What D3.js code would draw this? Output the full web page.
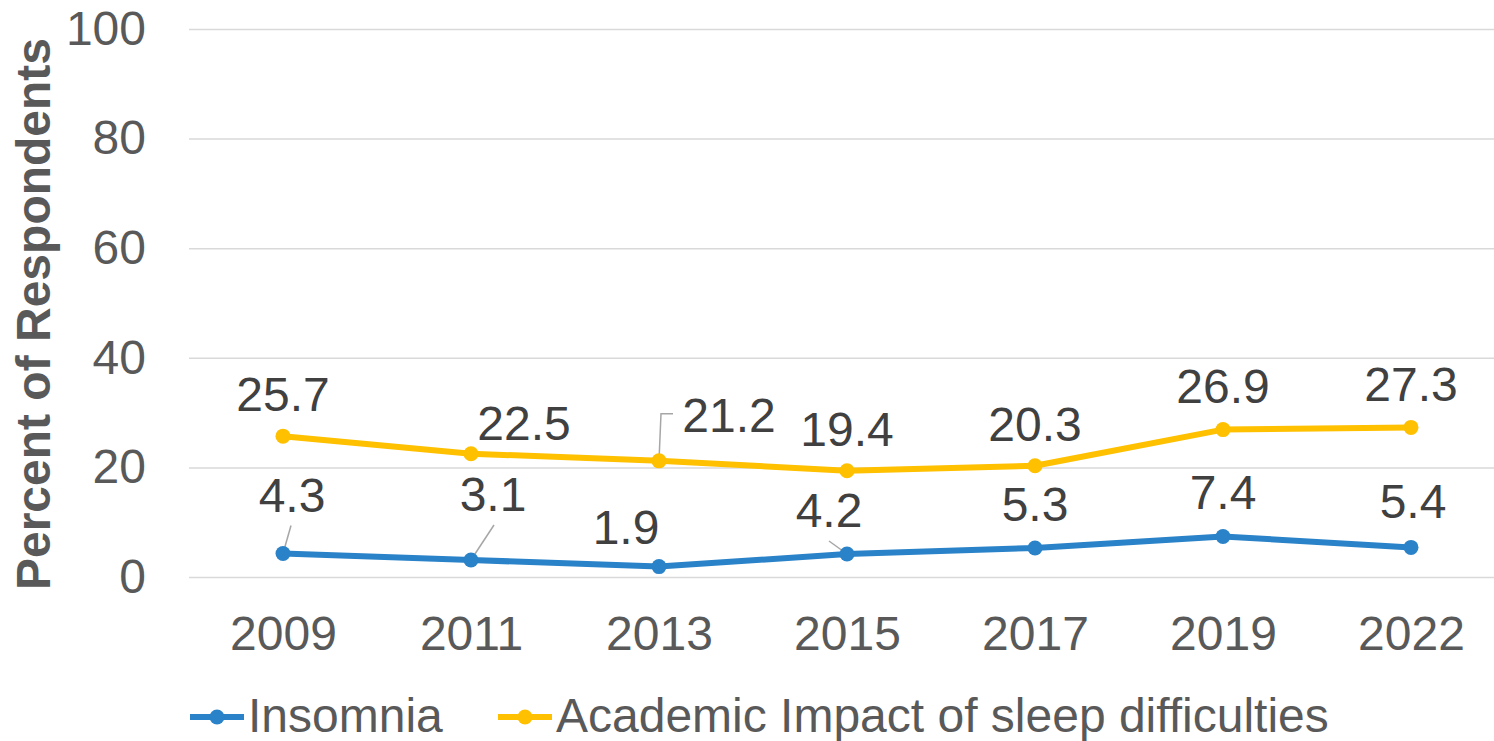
<!DOCTYPE html>
<html>
<head>
<meta charset="utf-8">
<script src="https://cdn.jsdelivr.net/npm/d3@7"></script>
<style>
  body { margin: 0; background: #fff; }
  text { font-family: "Liberation Sans", Arial, sans-serif; }
</style>
</head>
<body>
<div id="chart"></div>
<script>
// data
var years = ["2009", "2011", "2013", "2015", "2017", "2019", "2022"];
var insomnia = [4.3, 3.1, 1.9, 4.2, 5.3, 7.4, 5.4];
var academic = [25.7, 22.5, 21.2, 19.4, 20.3, 26.9, 27.3];
var yTicks = [0, 20, 40, 60, 80, 100];
var seriesNames = ["Insomnia", "Academic Impact of sleep difficulties"];

var W = 1494, H = 741;
var colors = ["#2a82c8", "#ffc000"];
var fs = "48px";

var svg = d3.select("#chart").append("svg")
    .attr("width", W)
    .attr("height", H);

var x = d3.scalePoint()
    .domain(years)
    .range([189, 1505])
    .padding(0.5);

var y = d3.scaleLinear()
    .domain([0, 100])
    .range([577, 29]);

// grid + y labels
var yAxis = svg.append("g")
    .attr("transform", "translate(189,0)")
    .call(d3.axisLeft(y).tickValues(yTicks).tickSize(-1320).tickPadding(43));
yAxis.select(".domain").remove();
yAxis.selectAll("line").attr("stroke", "#d9d9d9").attr("stroke-width", 1.5);
yAxis.selectAll("text")
    .attr("fill", "#595959")
    .style("font-size", fs);

// x labels
var xAxis = svg.append("g")
    .attr("transform", "translate(0,577)")
    .call(d3.axisBottom(x).tickSize(0).tickPadding(39));
xAxis.select(".domain").remove();
xAxis.selectAll("text")
    .attr("fill", "#595959")
    .style("font-size", fs);

svg.append("text")
    .attr("transform", "translate(50,314) rotate(-90)")
    .attr("text-anchor", "middle")
    .attr("fill", "#595959")
    .style("font-size", fs)
    .style("font-weight", "bold")
    .text("Percent of Respondents");

var line = d3.line()
    .x(function(d, i) { return x(years[i]); })
    .y(function(d) { return y(d); });

var series = [insomnia, academic];

// label nudges (dx, dy above point) per series
var nudges = [
    [[9, -41], [22, -49], [-33, -23], [-18, -27], [0, -27], [0, -27], [2, -29]],
    [[0, -25], [53, -14], [70, -29], [0, -25], [0, -25], [0, -27], [0, -26]]
];

// leader lines
var leaders = [
    [0, 0, 8, -28],
    [1, 0, 23, -35],
    [3, 0, -18, -13]
];
leaders.forEach(function(l) {
    var px = x(years[l[0]]), py = y(insomnia[l[0]]);
    svg.append("line")
        .attr("x1", px).attr("y1", py)
        .attr("x2", px + l[2]).attr("y2", py + l[3])
        .attr("stroke", "#a6a6a6").attr("stroke-width", 1.5);
});
(function() {
    var px = x(years[2]), py = y(academic[2]);
    svg.append("polyline")
        .attr("points", [[px, py], [px + 2, py - 47], [px + 14, py - 47]].map(function(p) { return p.join(","); }).join(" "))
        .attr("fill", "none")
        .attr("stroke", "#a6a6a6").attr("stroke-width", 1.5);
})();

series.forEach(function(vals, s) {
    svg.append("path")
        .datum(vals)
        .attr("d", line)
        .attr("fill", "none")
        .attr("stroke", colors[s])
        .attr("stroke-width", 6)
        .attr("stroke-linejoin", "round");

    svg.selectAll(".dot" + s)
        .data(vals)
        .enter().append("circle")
        .attr("cx", function(d, i) { return x(years[i]); })
        .attr("cy", function(d) { return y(d); })
        .attr("r", 7.5)
        .attr("fill", colors[s]);

    svg.selectAll(".lbl" + s)
        .data(vals)
        .enter().append("text")
        .attr("x", function(d, i) { return x(years[i]) + nudges[s][i][0]; })
        .attr("y", function(d, i) { return y(d) + nudges[s][i][1]; })
        .attr("text-anchor", "middle")
        .attr("fill", "#404040")
        .style("font-size", fs)
        .text(function(d) { return d.toFixed(1); });
});

// legend
var legendX = [190, 498];
seriesNames.forEach(function(name, s) {
    var g = svg.append("g").attr("transform", "translate(" + legendX[s] + ",717)");
    g.append("line")
        .attr("x1", 0).attr("x2", 54)
        .attr("stroke", colors[s]).attr("stroke-width", 6);
    g.append("circle").attr("cx", 27).attr("r", 7.5).attr("fill", colors[s]);
    g.append("text")
        .attr("x", 58).attr("y", 15)
        .attr("fill", "#595959")
        .style("font-size", fs)
        .text(name);
});
</script>
</body>
</html>
